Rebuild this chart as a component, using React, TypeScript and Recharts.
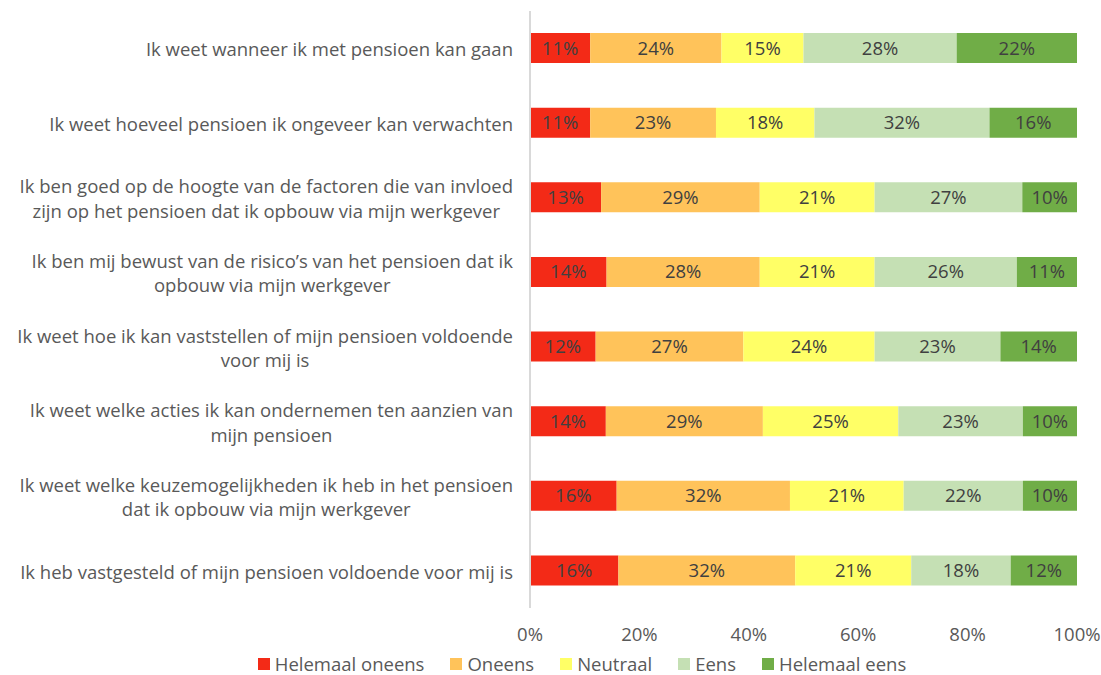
import React from "react";
import { Bar, BarChart, LabelList, Legend, XAxis, YAxis } from "recharts";

const categories = [
  "Ik weet wanneer ik met pensioen kan gaan",
  "Ik weet hoeveel pensioen ik ongeveer kan verwachten",
  "Ik ben goed op de hoogte van de factoren die van invloed\nzijn op het pensioen dat ik opbouw via mijn werkgever",
  "Ik ben mij bewust van de risico’s van het pensioen dat ik\nopbouw via mijn werkgever",
  "Ik weet hoe ik kan vaststellen of mijn pensioen voldoende\nvoor mij is",
  "Ik weet welke acties ik kan ondernemen ten aanzien van\nmijn pensioen",
  "Ik weet welke keuzemogelijkheden ik heb in het pensioen\ndat ik opbouw via mijn werkgever",
  "Ik heb vastgesteld of mijn pensioen voldoende voor mij is",
];

const helemaalOneens = [11, 11, 13, 14, 12, 14, 16, 16];
const oneens = [24, 23, 29, 28, 27, 29, 32, 32];
const neutraal = [15, 18, 21, 21, 24, 25, 21, 21];
const eens = [28, 32, 27, 26, 23, 23, 22, 18];
const helemaalEens = [22, 16, 10, 11, 14, 10, 10, 12];

const xTicks = [0, 0.2, 0.4, 0.6, 0.8, 1];

const series = [
  { key: "helemaalOneens", name: "Helemaal oneens", color: "#F32A17" },
  { key: "oneens", name: "Oneens", color: "#FFC35A" },
  { key: "neutraal", name: "Neutraal", color: "#FFFF66" },
  { key: "eens", name: "Eens", color: "#C5E0B4" },
  { key: "helemaalEens", name: "Helemaal eens", color: "#70AD47" },
];

const data = categories.map((label, i) => ({
  label,
  helemaalOneens: helemaalOneens[i],
  oneens: oneens[i],
  neutraal: neutraal[i],
  eens: eens[i],
  helemaalEens: helemaalEens[i],
}));

const FONT = "'Open Sans', Lato, sans-serif";
const FONT_SIZE = 18.5;

let ctx: CanvasRenderingContext2D | null = null;
function measure(s: string) {
  if (!ctx) ctx = document.createElement("canvas").getContext("2d");
  if (!ctx) return s.length * 8;
  ctx.font = `${FONT_SIZE}px 'Open Sans'`;
  return ctx.measureText(s).width;
}

function CategoryTick(props: any) {
  const { x, y, payload } = props;
  const lines: string[] = String(payload.value).split("\n");
  const right = x - 9;
  const maxW = Math.max(...lines.map(measure));
  const cx = right - maxW / 2;
  const lh = 24.5;
  const start = y - ((lines.length - 1) * lh) / 2;
  return (
    <text
      x={cx}
      y={start}
      textAnchor="middle"
      dominantBaseline="central"
      fill="#595959"
      fontSize={FONT_SIZE}
      fontFamily={FONT}
    >
      {lines.map((l, i) => (
        <tspan key={i} x={cx} y={start + i * lh} dominantBaseline="central">
          {l}
        </tspan>
      ))}
    </text>
  );
}

function LegendContent() {
  return (
    <div
      style={{
        display: "flex",
        justifyContent: "center",
        gap: 26,
        fontFamily: FONT,
        fontSize: FONT_SIZE,
        lineHeight: "20px",
        color: "#595959",
        paddingTop: 6,
      }}
    >
      {series.map((s) => (
        <div key={s.key} style={{ display: "flex", alignItems: "center" }}>
          <span
            style={{
              width: 12,
              height: 12,
              background: s.color,
              display: "inline-block",
              marginRight: 5,
            }}
          />
          {s.name}
        </div>
      ))}
    </div>
  );
}

export default function App() {
  return (
    <div style={{ position: "absolute", left: 0, top: 0, background: "#fff" }}>
      <BarChart
        width={1101}
        height={675}
        data={data}
        layout="vertical"
        stackOffset="expand"
        barSize={30}
        margin={{ top: 11, right: 24, left: 0, bottom: 0 }}
      >
        <XAxis
          type="number"
          domain={[0, 1]}
          ticks={xTicks}
          tickFormatter={(v: number) => `${Math.round(v * 100)}%`}
          axisLine={false}
          tickLine={false}
          tickSize={0}
          tickMargin={20}
          height={40}
          tick={{ fill: "#595959", fontSize: FONT_SIZE, fontFamily: FONT }}
        />
        <YAxis
          type="category"
          dataKey="label"
          width={530}
          interval={0}
          tickLine={false}
          axisLine={{ stroke: "#D9D9D9", strokeWidth: 2 }}
          tick={<CategoryTick />}
        />
        <Legend
          verticalAlign="bottom"
          height={27}
          content={<LegendContent />}
          wrapperStyle={{ left: 0, width: 1164 }}
        />
        {series.map((s) => (
          <Bar
            key={s.key}
            dataKey={s.key}
            name={s.name}
            stackId="a"
            fill={s.color}
            isAnimationActive={false}
          >
            <LabelList
              dataKey={s.key}
              position="center"
              formatter={(v: any) => `${v}%`}
              fill="#404040"
              fontSize={FONT_SIZE}
              fontFamily={FONT}
            />
          </Bar>
        ))}
      </BarChart>
    </div>
  );
}
